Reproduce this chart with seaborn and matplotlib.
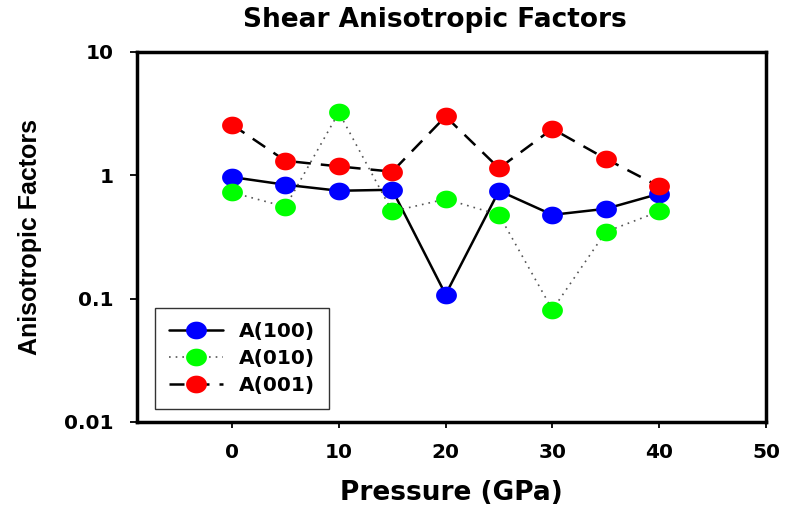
import numpy as np
import pandas as pd
import matplotlib
matplotlib.use("Agg")
import matplotlib.pyplot as plt
from matplotlib.path import Path
import seaborn as sns

pressure = [0, 5, 10, 15, 20, 25, 30, 35, 40]
a100 = [0.967, 0.838, 0.749, 0.763, 0.108, 0.749, 0.478, 0.535, 0.708]
a010 = [0.726, 0.555, 3.23, 0.509, 0.641, 0.478, 0.0813, 0.348, 0.509]
a001 = [2.57, 1.31, 1.18, 1.07, 3.00, 1.14, 2.38, 1.36, 0.811]
series_names = ["A(100)", "A(010)", "A(001)"]
x_ticks = [0, 10, 20, 30, 40, 50]
y_ticks = [0.01, 0.1, 1, 10]
y_tick_labels = ["0.01", "0.1", "1", "10"]

sns.set_style("white")
plt.rcParams["font.family"] = ["DejaVu Sans"]
plt.rcParams["text.color"] = "black"
plt.rcParams["axes.labelcolor"] = "black"

fig = plt.figure(figsize=(7.85, 5.14), dpi=100)
ax = fig.add_axes([0.1745, 0.179, 0.8013, 0.72])

t = np.linspace(0, 2 * np.pi, 60)
ell = Path(np.column_stack([np.cos(t), 0.85 * np.sin(t)]), closed=True)

styles = [
    dict(color="black", linestyle="-", linewidth=1.8, mfc="#0000ff"),
    dict(color="#555555", linestyle=(0, (1, 3)), linewidth=1.2, mfc="#00ff00"),
    dict(color="black", linestyle=(0, (6, 4)), linewidth=1.8, mfc="#ff0000"),
]
for name, vals, st in zip(series_names, [a100, a010, a001], styles):
    sns.lineplot(x=pressure, y=vals, ax=ax, color=st["color"], linestyle=st["linestyle"],
                 linewidth=st["linewidth"], marker=ell, markersize=15,
                 markerfacecolor=st["mfc"], markeredgecolor=st["mfc"], markeredgewidth=0,
                 label=name, sort=False)

ax.set_yscale("log")
ax.set_xlim(-8.9, 50)
ax.set_ylim(0.01, 10)
ax.set_xticks(x_ticks)
ax.set_xticklabels([str(v) for v in x_ticks])
ax.set_yticks(y_ticks)
ax.set_yticklabels(y_tick_labels)
ax.yaxis.set_minor_locator(matplotlib.ticker.NullLocator())
ax.tick_params(axis="both", which="major", direction="out", width=1.3,
               labelsize=14.5, colors="black", left=True, bottom=True)
ax.tick_params(axis="y", length=5, pad=12)
ax.tick_params(axis="x", length=4, pad=11)
for lab in ax.get_xticklabels() + ax.get_yticklabels():
    lab.set_fontweight("bold")
for s in ax.spines.values():
    s.set_color("black")
    s.set_linewidth(2.5)
    s.set_visible(True)

ax.set_xlabel("Pressure (GPa)", fontsize=19, fontweight="bold", labelpad=13)
ax.set_ylabel("Anisotropic Factors", fontsize=18, fontweight="bold", labelpad=16,
              family="Liberation Sans")
fig.text(435 / 785, 1 - 20 / 514, "Shear Anisotropic Factors", fontsize=19,
         fontweight="bold", ha="center", va="center")

leg = ax.legend(loc="upper left", bbox_to_anchor=(0.0286, 0.308), frameon=True, fancybox=False,
                prop={"weight": "bold", "size": 14.5, "family": "DejaVu Sans"}, borderpad=0.7,
                labelspacing=0.4, handlelength=2.7, handletextpad=0.75, borderaxespad=0)
leg.get_frame().set_edgecolor("black")
leg.get_frame().set_linewidth(1.0)

fig.savefig("out.png", dpi=100)
